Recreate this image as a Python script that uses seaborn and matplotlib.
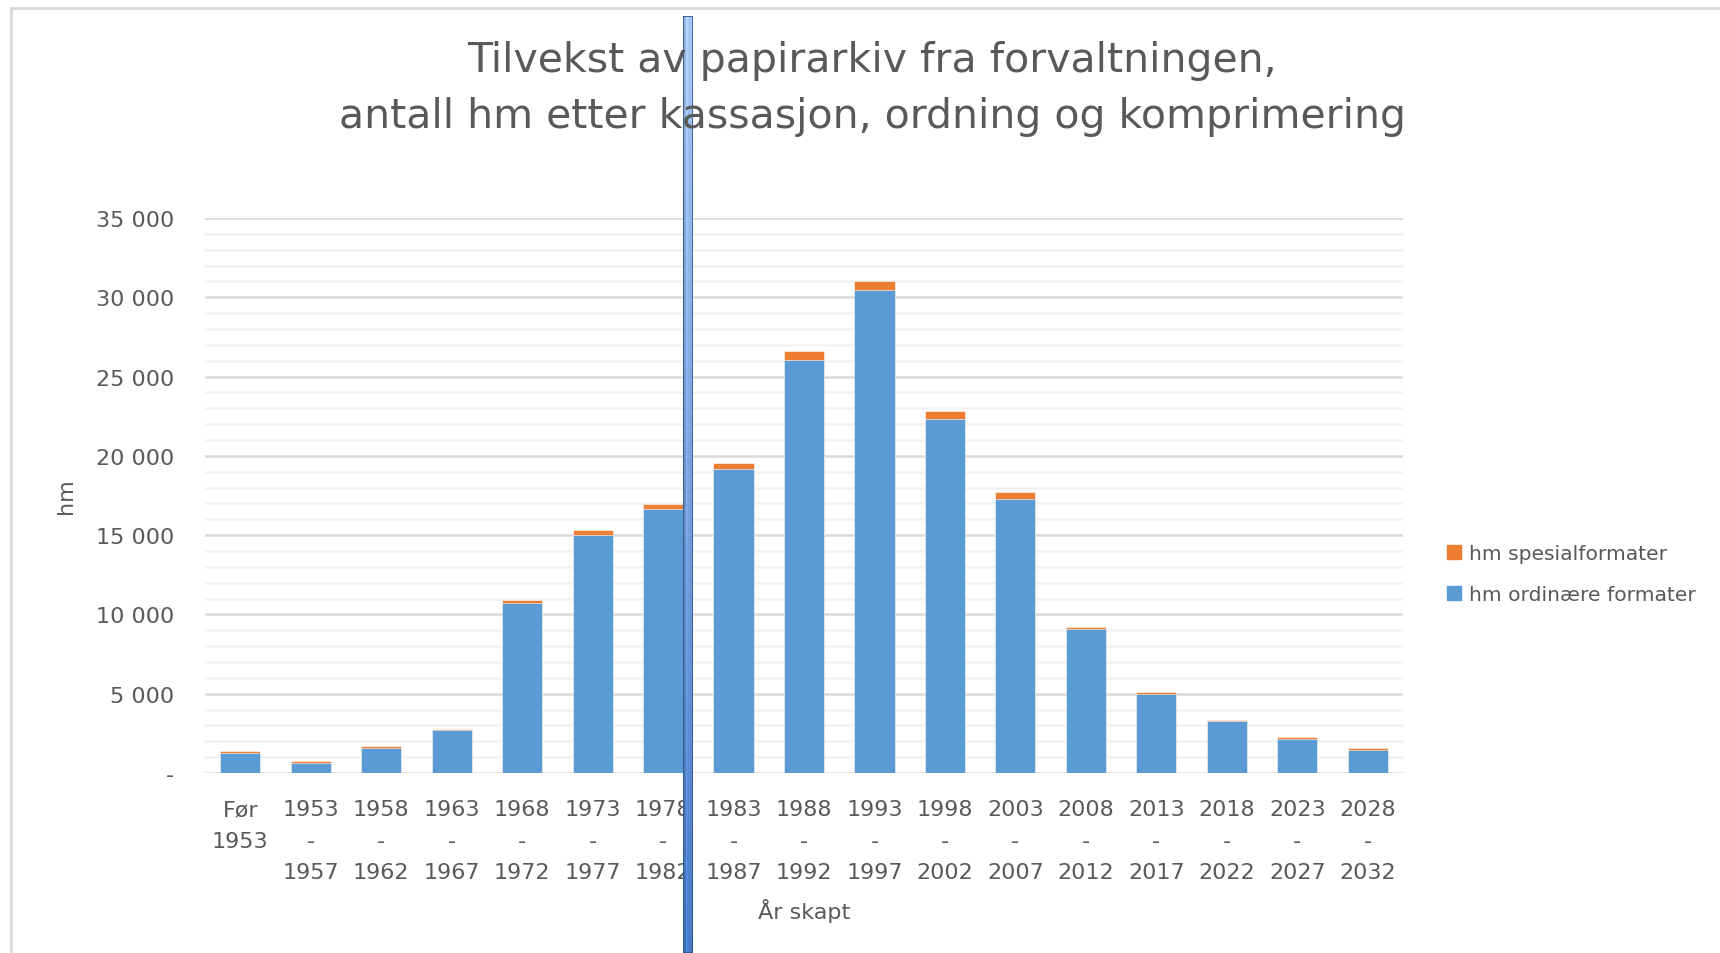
"""Tilvekst av papirarkiv - stacked bars."""
import numpy as np
import pandas as pd
import matplotlib
matplotlib.use("Agg")
import matplotlib.pyplot as plt
from matplotlib.ticker import FuncFormatter, MultipleLocator
from matplotlib.lines import Line2D
from matplotlib.patches import Rectangle
import seaborn as sns

# data (hm)
periods = ["Før\n1953", "1953\n-\n1957", "1958\n-\n1962", "1963\n-\n1967", "1968\n-\n1972",
           "1973\n-\n1977", "1978\n-\n1982", "1983\n-\n1987", "1988\n-\n1992", "1993\n-\n1997",
           "1998\n-\n2002", "2003\n-\n2007", "2008\n-\n2012", "2013\n-\n2017", "2018\n-\n2022",
           "2023\n-\n2027", "2028\n-\n2032"]
ordinary = [1280, 650, 1570, 2710, 10710, 15040, 16680, 19190, 26040, 30460,
            22320, 17300, 9050, 4960, 3270, 2170, 1440]
special = [100, 100, 120, 70, 220, 290, 310, 390, 560, 560,
           490, 400, 130, 130, 90, 110, 110]

BLUE = "#5B9BD5"
ORANGE = "#ED7D31"
TEXT = "#595959"

df = pd.DataFrame({"period": periods, "ordinary": ordinary, "special": special})
df["total"] = df["ordinary"] + df["special"]

sns.set_style("white")
plt.rcParams["font.family"] = ["DejaVu Sans"]

fig = plt.figure(figsize=(17.2, 9.54), dpi=100)
ax = fig.add_axes([205 / 1720, 1 - 774 / 954, 1198 / 1720, 555 / 954])

# stacked: total in orange, ordinary on top of it in blue
sns.barplot(data=df, x="period", y="total", color=ORANGE, saturation=1, width=0.57,
            edgecolor="white", linewidth=0.4, ax=ax, zorder=3)
sns.barplot(data=df, x="period", y="ordinary", color=BLUE, saturation=1, width=0.57,
            edgecolor="white", linewidth=0.4, ax=ax, zorder=3)

ax.set_ylim(0, 35000)
ax.set_xlim(-0.5, len(periods) - 0.5)
ax.yaxis.set_major_locator(MultipleLocator(5000))
ax.yaxis.set_minor_locator(MultipleLocator(1000))
ax.yaxis.set_major_formatter(FuncFormatter(
    lambda v, p: "-" if v == 0 else f"{v:,.0f}".replace(",", " ")))
ax.grid(axis="y", which="major", color="#D9D9D9", linewidth=1.8, zorder=0)
ax.grid(axis="y", which="minor", color="#F2F2F2", linewidth=1.8, zorder=0)
ax.grid(axis="x", visible=False)
ax.set_axisbelow(True)
sns.despine(ax=ax, left=True, bottom=True)

ax.tick_params(axis="y", which="both", length=0, labelsize=16, labelcolor=TEXT, pad=22)
ax.tick_params(axis="x", length=0, labelsize=16, labelcolor=TEXT, pad=19)
ax.set_xticks(range(len(periods)))
ax.set_xticklabels(periods, linespacing=1.7, va="top")

ax.set_xlabel("År skapt", fontsize=16, color=TEXT)
ax.set_ylabel("hm", fontsize=16, color=TEXT)
ax.xaxis.set_label_coords(0.5, -0.225)
ax.yaxis.set_label_coords(-0.108, 0.5)

fig.text(872 / 1720, 1 - 89 / 954,
         "Tilvekst av papirarkiv fra forvaltningen,\nantall hm etter kassasjon, ordning og komprimering",
         ha="center", va="center", fontsize=29.5, color=TEXT, linespacing=1.52)

handles = [Line2D([], [], marker="s", linestyle="", markersize=10, color=ORANGE),
           Line2D([], [], marker="s", linestyle="", markersize=10, color=BLUE)]
fig.legend(handles, ["hm spesialformater", "hm ordinære formater"],
           loc="center left", bbox_to_anchor=(1430 / 1720, 1 - 575 / 954),
           frameon=False, fontsize=14.6, labelcolor=TEXT, handlelength=0.6,
           handletextpad=0.4, labelspacing=1.1)

# chart frame
fig.add_artist(Line2D([11 / 1720, 1], [1 - 9 / 954] * 2, color="#D9D9D9", linewidth=2))
fig.add_artist(Line2D([11 / 1720] * 2, [0, 1 - 9 / 954], color="#D9D9D9", linewidth=2))

# blue vertical marker drawn over the chart
bar_ax = fig.add_axes([683 / 1720, 0, 10 / 1720, 1 - 17 / 954])
top = np.array([0.66, 0.78, 0.95])
bottom = np.array([0.27, 0.48, 0.78])
grad = np.linspace(0, 1, 256)[:, None, None] * (bottom - top) + top
img = np.repeat(grad, 4, axis=1)
img[:, :1] = img[:, :1] * 0.85
img[:, 1:2] = np.clip(img[:, 1:2] * 1.08, 0, 1)
bar_ax.imshow(img, aspect="auto", extent=[0, 1, 0, 1], origin="upper")
bar_ax.add_patch(Rectangle((0, 0), 1, 1, fill=False, edgecolor="#2F5597",
                           linewidth=1.2, transform=bar_ax.transAxes))
bar_ax.set_axis_off()

fig.savefig("out.png", dpi=100)
